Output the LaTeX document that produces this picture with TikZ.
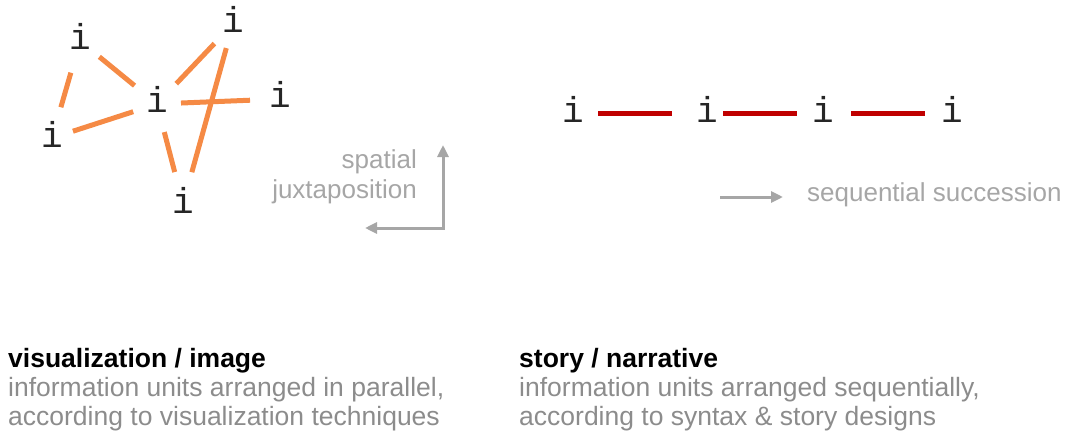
\documentclass[tikz,border=0pt]{standalone}
\usepackage{fontspec}
\setmainfont{Liberation Sans}
\newfontfamily\unitfont{Liberation Mono}
\usetikzlibrary{arrows.meta}
\definecolor{linkorange}{HTML}{F58A45}
\definecolor{seqred}{HTML}{C00000}
\definecolor{softgray}{HTML}{A6A6A6}
\definecolor{descgray}{HTML}{8C8C8C}
\begin{document}
\begin{tikzpicture}[x=1pt,y=-1pt,
      unit/.style={inner sep=0pt,text height=24pt,text depth=6pt,
        font=\unitfont\fontsize{36}{40}\selectfont,text=black!85},
      link/.style={draw=linkorange,line width=5pt},
      seq/.style={draw=seqred,line width=5pt},
      flow/.style={draw=softgray,line width=3pt,
        arrows={-Triangle[length=12pt,width=11pt]}},
      note/.style={inner sep=0pt,text=softgray,align=right,
        font=\fontsize{26}{30}\selectfont},
      head/.style={inner sep=0pt,font=\bfseries\fontsize{26.5}{29}\selectfont},
      desc/.style={inner sep=0pt,text=descgray,align=left,
        font=\fontsize{26.5}{29}\selectfont}]
     \useasboundingbox (0,0) rectangle (1075,441);
     % units placed side by side
     \node[unit] (tl) at (80,41) {i};
     \node[unit] (tr) at (233,24) {i};
     \node[unit] (c) at (157,104) {i};
     \node[unit] (r) at (280,99) {i};
     \node[unit] (l) at (52,138) {i};
     \node[unit] (b) at (183,204) {i};
     \foreach \a/\b/\s/\t in {tl/c/25/29,tl/l/33/32,l/c/22/25,c/tr/28/27,
                              tr/b/25/33,c/r/24/30,c/b/29/33}
       \draw[link,shorten <=\s pt,shorten >=\t pt] (\a.center) -- (\b.center);
     % units one after another
     \node[unit] (s1) at (573,114) {i};
     \node[unit] (s2) at (707,114) {i};
     \node[unit] (s3) at (823,114) {i};
     \node[unit] (s4) at (952,114) {i};
     \draw[seq,shorten <=25pt,shorten >=35pt] (s1.center) -- (s2.center);
     \draw[seq,shorten <=16pt,shorten >=26pt] (s2.center) -- (s3.center);
     \draw[seq,shorten <=28pt,shorten >=27pt] (s3.center) -- (s4.center);
     % direction arrows
     \coordinate (up) at (443,145);
     \coordinate (corner) at (443,228);
     \coordinate (left) at (365,228);
     \draw[flow,arrows={Triangle[length=12pt,width=11pt]-Triangle[length=12pt,width=11pt]}]
       (up) -- (corner) -- (left);
     \node[note,anchor=east] (spatial) at (417,177) {spatial\\juxtaposition};
     \coordinate (seqstart) at (720,197);
     \coordinate (seqend) at (783,197);
     \draw[flow] (seqstart) -- (seqend);
     \node[note,anchor=west] (sequential) at (807,195) {sequential succession};
     % captions
     \node[head,anchor=base west] (vishead) at (8,367) {visualization / image};
     \node[desc,anchor=base west] (visdesc) at (8,425)
       {information units arranged in parallel,\\according to visualization techniques};
     \node[head,anchor=base west] (storyhead) at (519,367) {story / narrative};
     \node[desc,anchor=base west] (storydesc) at (519,425)
       {information units arranged sequentially,\\according to syntax \& story designs};
\end{tikzpicture}
\end{document}
